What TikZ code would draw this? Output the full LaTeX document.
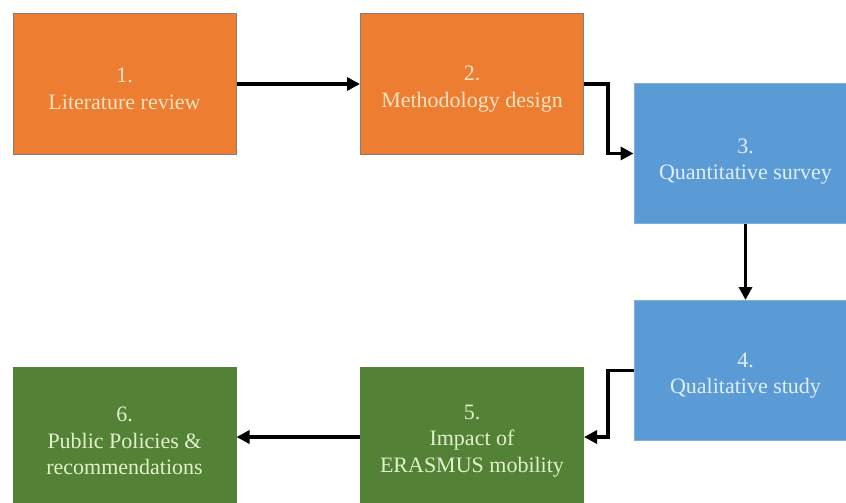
\documentclass[tikz,border=0pt]{standalone}
\usepackage{fontspec}
\setmainfont{Liberation Serif}
\usetikzlibrary{arrows.meta}
\definecolor{orangebox}{HTML}{ED7D31}
\definecolor{bluebox}{HTML}{5B9BD5}
\definecolor{greenbox}{HTML}{538135}
\definecolor{orangetext}{HTML}{FAE3C3}
\definecolor{bluetext}{HTML}{E0EEFA}
\definecolor{greentext}{HTML}{E2F0CC}
\definecolor{orangeedge}{HTML}{8C7B72}
\definecolor{blueedge}{HTML}{7FB0DE}
\tikzset{
  stepbox/.style={rectangle, minimum width=223pt, minimum height=140pt, inner sep=0pt, line width=1pt},
  orangestep/.style={stepbox, fill=orangebox, draw=orangeedge},
  bluestep/.style={stepbox, fill=bluebox, draw=blueedge},
  greenstep/.style={stepbox, fill=greenbox, draw=greenbox},
  steplabel/.style={align=center, inner sep=0pt, font=\fontsize{22}{26.5}\selectfont},
  arr/.style={line width=3.5pt, -{Triangle[length=13pt,width=13pt]}}
}
\begin{document}
\begin{tikzpicture}[x=1pt,y=-1pt]
\useasboundingbox (0,0) rectangle (846,503);
\clip (0,0) rectangle (846,503);
\fill[white] (0,0) rectangle (846,503);
\node[orangestep] (b1) at (124.5,84) {};
\node[orangestep] (b2) at (472,84) {};
\node[bluestep] (b3) at (745.5,153.5) {};
\node[bluestep] (b4) at (745.5,370.5) {};
\node[greenstep] (b5) at (472,437) {};
\node[greenstep] (b6) at (124.5,437) {};
\node[steplabel, text=orangetext] (t1) at ([yshift=-5pt]b1.center) {1.\\Literature review};
\node[steplabel, text=orangetext] (t2) at ([yshift=-5pt]b2.center) {2.\\Methodology design};
\node[steplabel, text=bluetext] (t3) at ([yshift=-8pt]b3.center) {3.\\Quantitative survey};
\node[steplabel, text=bluetext] (t4) at ([yshift=-5pt]b4.center) {4.\\Qualitative study};
\node[steplabel, text=greentext] (t5) at ([yshift=-4pt]b5.center) {5.\\Impact of\\ERASMUS mobility};
\node[steplabel, text=greentext] (t6) at ([yshift=-4pt]b6.center) {6.\\Public Policies \&\\recommendations};
\coordinate (c23) at (608,84);
\coordinate (c45) at (608,370.5);
\draw[arr] (b1.east) -- (b2.west);
\draw[arr] (b2.east) -- (c23) |- (b3.west);
\draw[arr] (b3.south) -- (b4.north);
\draw[arr] (b4.west) -- (c45) |- (b5.east);
\draw[arr] (b5.west) -- (b6.east);
\end{tikzpicture}
\end{document}
